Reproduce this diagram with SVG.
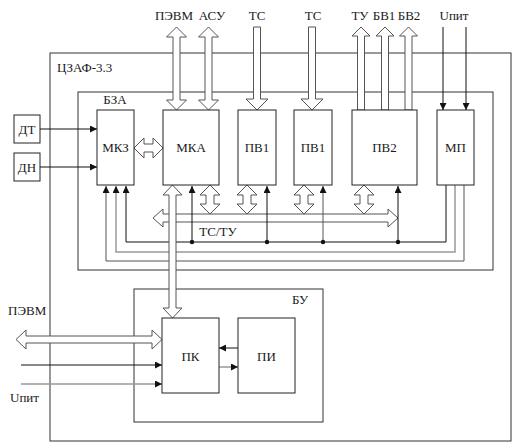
<svg xmlns="http://www.w3.org/2000/svg" width="515" height="444" viewBox="0 0 515 444">
<style>
.frame{fill:none;stroke:#333;stroke-width:1}
.box{fill:#fff;stroke:#222;stroke-width:1}
.bus{fill:#fff;stroke:#555;stroke-width:1}
.ln{fill:none;stroke:#111;stroke-width:1}
.lg{fill:none;stroke:#999;stroke-width:1.5}
.ld{fill:none;stroke:#555;stroke-width:1}
.t{font-family:"Liberation Serif","Times New Roman",serif;font-size:13px;fill:#1a1a1a}
.c{text-anchor:middle}
</style>
<defs>
<marker id="ah" viewBox="0 0 10 10" refX="10" refY="5" markerWidth="7" markerHeight="7" markerUnits="userSpaceOnUse" orient="auto"><path d="M0,0 L10,5 L0,10 Z" fill="#111"/></marker>
</defs>
<rect width="515" height="444" fill="#fff"/>
<g id="frame-czaf"><rect class="frame" x="50" y="53" width="461" height="388"/><text class="t" x="57" y="72">ЦЗАФ-3.3</text></g>
<g id="frame-bza"><rect class="frame" x="78" y="92" width="415" height="178"/><text class="t c" x="115" y="104">БЗА</text></g>
<g id="frame-bu"><rect class="frame" x="134" y="289" width="189" height="133"/><text class="t c" x="300" y="304">БУ</text></g>

<g id="connectors">
<path class="ld" d="M464,185 V261 H106 V186" marker-end="url(#ah)"/>
<path class="lg" d="M455,185 V252 H116 V186" marker-end="url(#ah)"/>
<path class="ln" d="M446,185 V242 H126 V186" marker-end="url(#ah)"/>
<path class="bus" d="M153,218 L163,209 L163,214 L388,214 L388,209 L398,218 L388,227 L388,222 L163,222 L163,227 Z"/>
<line class="ln" x1="192" y1="242" x2="192" y2="186" marker-end="url(#ah)"/>
<line class="ln" x1="267" y1="242" x2="267" y2="186" marker-end="url(#ah)"/>
<line class="ld" x1="323" y1="242" x2="323" y2="186" marker-end="url(#ah)"/>
<line class="ln" x1="398" y1="242" x2="398" y2="186" marker-end="url(#ah)"/>
<circle cx="192" cy="242" r="2.2" fill="#111"/><circle cx="267" cy="242" r="2.2" fill="#111"/><circle cx="323" cy="242" r="2.2" fill="#111"/><circle cx="398" cy="242" r="2.2" fill="#111"/>
<path class="bus" d="M210,185 L220,195 L214,195 L214,204 L220,204 L210,214 L200,204 L206,204 L206,195 L200,195 Z"/>
<path class="bus" d="M247,185 L257,195 L251,195 L251,204 L257,204 L247,214 L237,204 L243,204 L243,195 L237,195 Z"/>
<path class="bus" d="M304,185 L314,195 L308,195 L308,204 L314,204 L304,214 L294,204 L300,204 L300,195 L294,195 Z"/>
<path class="bus" d="M364,185 L374,195 L368,195 L368,204 L374,204 L364,214 L354,204 L360,204 L360,195 L354,195 Z"/>
<path class="bus" d="M172.5,185 L182,195 L176,195 L176,308 L182,308 L172.5,318 L163,308 L169,308 L169,195 L163,195 Z"/>
<path class="bus" d="M134,148 L144,138 L144,144 L153,144 L153,138 L163,148 L153,158 L153,152 L144,152 L144,158 Z"/>
<line class="ln" x1="40" y1="129" x2="97" y2="129" marker-end="url(#ah)"/>
<line class="ln" x1="40" y1="167" x2="97" y2="167" marker-end="url(#ah)"/>
<path class="bus" d="M176.5,27 L186.5,37 L180,37 L180,100 L186.5,100 L176.5,110 L166.5,100 L173,100 L173,37 L166.5,37 Z"/>
<path class="bus" d="M208.5,27 L218.5,37 L212,37 L212,100 L218.5,100 L208.5,110 L198.5,100 L205,100 L205,37 L198.5,37 Z"/>
<path class="bus" d="M253.5,27 L260.5,27 L260.5,99 L268,99 L257,110 L246,99 L253.5,99 Z"/>
<path class="bus" d="M308.5,27 L315.5,27 L315.5,99 L323,99 L312,110 L301,99 L308.5,99 Z"/>
<path class="bus" d="M361,27 L370,36 L364.5,36 L364.5,110 L357.5,110 L357.5,36 L352,36 Z"/>
<path class="bus" d="M385,27 L394,36 L388.5,36 L388.5,110 L381.5,110 L381.5,36 L376,36 Z"/>
<path class="bus" d="M408.5,27 L417.5,36 L412,36 L412,110 L405,110 L405,36 L399.5,36 Z"/>
<line class="ln" x1="443" y1="27" x2="443" y2="110" marker-end="url(#ah)"/>
<line class="ln" x1="466" y1="27" x2="466" y2="110" marker-end="url(#ah)"/>
<path class="bus" d="M16,339.5 L26,330 L26,336 L152,336 L152,330 L162,339.5 L152,349 L152,343 L26,343 L26,349 Z"/>
<line class="ln" x1="21" y1="365" x2="162" y2="365" marker-end="url(#ah)"/>
<line class="lg" x1="21" y1="384" x2="162" y2="384" marker-end="url(#ah)"/>
<line class="ln" x1="238" y1="348" x2="219" y2="348" marker-end="url(#ah)"/>
<line class="lg" x1="219" y1="367" x2="238" y2="367" marker-end="url(#ah)"/>
</g>

<g id="node-dt"><rect class="box" x="14" y="115" width="26" height="28"/><text class="t c" x="27" y="134">ДТ</text></g>
<g id="node-dn"><rect class="box" x="14" y="153" width="26" height="28"/><text class="t c" x="27" y="172">ДН</text></g>
<g id="node-mkz"><rect class="box" x="97" y="110" width="37" height="75"/><text class="t c" x="115.5" y="152">МКЗ</text></g>
<g id="node-mka"><rect class="box" x="163" y="110" width="56" height="75"/><text class="t c" x="191" y="152">МКА</text></g>
<g id="node-pv1a"><rect class="box" x="238" y="110" width="38" height="75"/><text class="t c" x="257" y="152">ПВ1</text></g>
<g id="node-pv1b"><rect class="box" x="294" y="110" width="38" height="75"/><text class="t c" x="313" y="152">ПВ1</text></g>
<g id="node-pv2"><rect class="box" x="352" y="110" width="65" height="75"/><text class="t c" x="384.5" y="152">ПВ2</text></g>
<g id="node-mp"><rect class="box" x="437" y="110" width="37" height="75"/><text class="t c" x="455.5" y="152">МП</text></g>
<g id="node-pk"><rect class="box" x="162" y="318" width="57" height="75"/><text class="t c" x="190.5" y="361">ПК</text></g>
<g id="node-pi"><rect class="box" x="238" y="318" width="57" height="75"/><text class="t c" x="266.5" y="361">ПИ</text></g>

<g id="labels">
<text class="t c" x="174" y="20">ПЭВМ</text>
<text class="t c" x="212" y="20">АСУ</text>
<text class="t c" x="257" y="20">ТС</text>
<text class="t c" x="313" y="20">ТС</text>
<text class="t c" x="360" y="20">ТУ</text>
<text class="t c" x="384" y="20">БВ1</text>
<text class="t c" x="409" y="20">БВ2</text>
<text class="t c" x="454" y="20">Uпит</text>
<text class="t c" x="218" y="236">ТС/ТУ</text>
<text class="t" x="8" y="315">ПЭВМ</text>
<text class="t" x="10" y="402">Uпит</text>
</g>
</svg>
